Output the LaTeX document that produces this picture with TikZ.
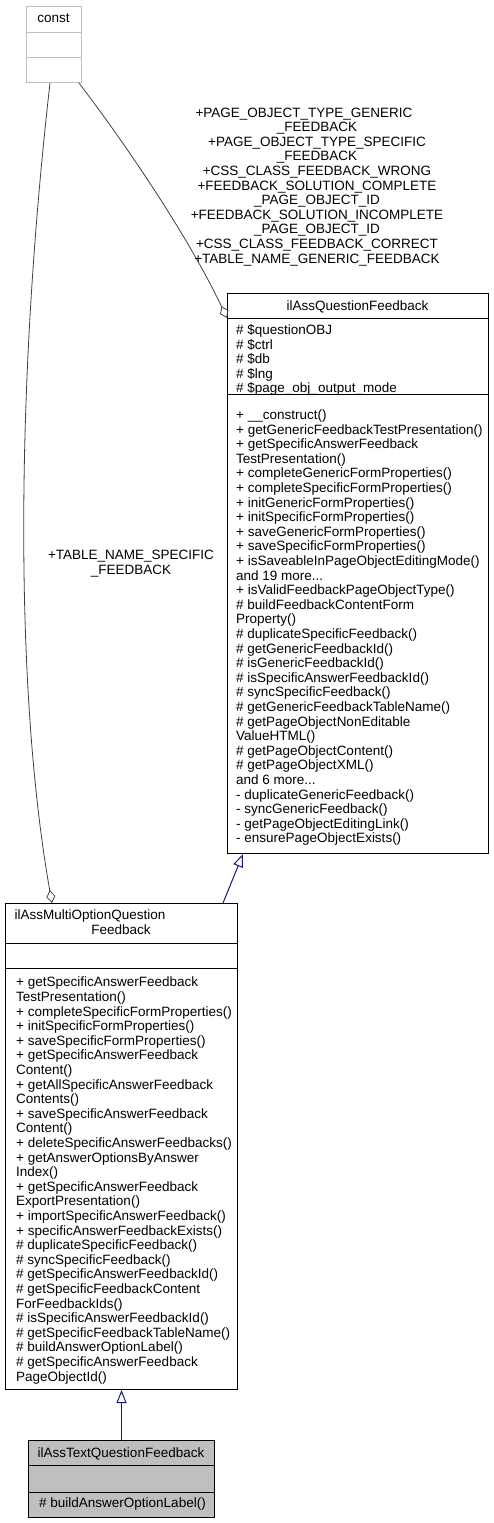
\documentclass[tikz,border=0pt]{standalone}
\usepackage{fontspec}
\setmainfont{Liberation Sans}
\usetikzlibrary{arrows.meta, calc}
\definecolor{navy}{HTML}{191970}
\tikzset{
    classbox/.style={draw, line width=1pt, anchor=north west, inner sep=0pt},
    ghostbox/.style={classbox, draw=gray!50},
    hitbox/.style={classbox, fill=gray!50},
    classtitle/.style={anchor=base, align=center, inner sep=0pt},
    members/.style={anchor=base west, align=left, inner sep=0pt},
    edgelabel/.style={anchor=base, align=center, inner sep=0pt},
    usage/.style={-{Diamond[open, length=13pt, width=9pt]}, draw=darkgray, line width=0.8pt},
    inherit/.style={-{Triangle[open, length=13pt, width=10pt]}, draw=navy, line width=1pt}
}

\begin{document}
\begin{tikzpicture}[x=1pt, y=-1pt, font=\fontsize{13.5}{14.6}\selectfont]
    \useasboundingbox (0,0) rectangle (493,1523);
    % multi-line nodes sit on the baseline of their last line

    % const
    \node[ghostbox, minimum width=55pt, minimum height=76pt] (const) at (26,6) {};
    \draw[gray!50, line width=1pt] (26,32) -- (81,32) (26,57) -- (81,57);
    \node[classtitle] (constname) at (53.5,23) {const};

    % ilAssQuestionFeedback
    \node[classbox, minimum width=261pt, minimum height=560pt] (qfb) at (227,293) {};
    \draw[line width=1pt] (227,318) -- (488,318) (227,394) -- (488,394);
    \node[classtitle] (qfbname) at (357.5,310) {ilAssQuestionFeedback};
    \node[members] (qfbattr) at (236,392.9) {\# \$questionOBJ\\\# \$ctrl\\\# \$db\\\# \$lng\\\# \$page\_obj\_output\_mode};
    \node[members] (qfbops) at (236,842.9) {+ \_\_construct()\\
        + getGenericFeedbackTestPresentation()\\
        + getSpecificAnswerFeedback\\
        TestPresentation()\\
        + completeGenericFormProperties()\\
        + completeSpecificFormProperties()\\
        + initGenericFormProperties()\\
        + initSpecificFormProperties()\\
        + saveGenericFormProperties()\\
        + saveSpecificFormProperties()\\
        + isSaveableInPageObjectEditingMode()\\
        and 19 more...\\
        + isValidFeedbackPageObjectType()\\
        \# buildFeedbackContentForm\\
        Property()\\
        \# duplicateSpecificFeedback()\\
        \# getGenericFeedbackId()\\
        \# isGenericFeedbackId()\\
        \# isSpecificAnswerFeedbackId()\\
        \# syncSpecificFeedback()\\
        \# getGenericFeedbackTableName()\\
        \# getPageObjectNonEditable\\
        ValueHTML()\\
        \# getPageObjectContent()\\
        \# getPageObjectXML()\\
        and 6 more...\\
        - duplicateGenericFeedback()\\
        - syncGenericFeedback()\\
        - getPageObjectEditingLink()\\
        - ensurePageObjectExists()};

    % ilAssMultiOptionQuestionFeedback
    \node[classbox, minimum width=232pt, minimum height=486pt] (mofb) at (5,903) {};
    \draw[line width=1pt] (5,943) -- (237,943) (5,968) -- (237,968);
    \node[classtitle] (mofbname) at (121,934) {ilAssMultiOptionQuestion\hspace*{62pt}\\Feedback};
    \node[members] (mofbops) at (16,1381) {+ getSpecificAnswerFeedback\\
        TestPresentation()\\
        + completeSpecificFormProperties()\\
        + initSpecificFormProperties()\\
        + saveSpecificFormProperties()\\
        + getSpecificAnswerFeedback\\
        Content()\\
        + getAllSpecificAnswerFeedback\\
        Contents()\\
        + saveSpecificAnswerFeedback\\
        Content()\\
        + deleteSpecificAnswerFeedbacks()\\
        + getAnswerOptionsByAnswer\\
        Index()\\
        + getSpecificAnswerFeedback\\
        ExportPresentation()\\
        + importSpecificAnswerFeedback()\\
        + specificAnswerFeedbackExists()\\
        \# duplicateSpecificFeedback()\\
        \# syncSpecificFeedback()\\
        \# getSpecificAnswerFeedbackId()\\
        \# getSpecificFeedbackContent\\
        ForFeedbackIds()\\
        \# isSpecificAnswerFeedbackId()\\
        \# getSpecificFeedbackTableName()\\
        \# buildAnswerOptionLabel()\\
        \# getSpecificAnswerFeedback\\
        PageObjectId()};

    % ilAssTextQuestionFeedback
    \node[hitbox, minimum width=186pt, minimum height=77pt] (tqfb) at (28,1440) {};
    \draw[line width=1pt] (28,1465) -- (214,1465) (28,1492) -- (214,1492);
    \node[classtitle] (tqfbname) at (121,1457.5) {ilAssTextQuestionFeedback};
    \node[members] (tqfbops) at (39,1507.5) {\# buildAnswerOptionLabel()};

    % edges
    \draw[inherit] (tqfb.north) -- (mofb.south);
    \draw[inherit] ($(mofb.north east)+(-15,0)$) -- ($(qfb.south west)+(16,0)$);
    \draw[usage] ($(const.south)+(-4,0)$) .. controls (14,400) and (16,700) .. ($(mofb.north west)+(47,0)$);
    \draw[usage] ($(const.south east)+(-3,0)$) .. controls (130,150) and (190,240) .. ($(qfb.north west)+(0,25)$);

    \node[edgelabel] (specific) at (131,574) {+TABLE\_NAME\_SPECIFIC\\\_FEEDBACK};
    \node[edgelabel] (generic) at (317,263) {+PAGE\_OBJECT\_TYPE\_GENERIC\hspace*{26pt}\\
        \_FEEDBACK\\
        +PAGE\_OBJECT\_TYPE\_SPECIFIC\hspace*{34pt}\\
        \_FEEDBACK\\
        +CSS\_CLASS\_FEEDBACK\_WRONG\\
        +FEEDBACK\_SOLUTION\_COMPLETE\hspace*{14pt}\\
        \_PAGE\_OBJECT\_ID\\
        +FEEDBACK\_SOLUTION\_INCOMPLETE\\
        \_PAGE\_OBJECT\_ID\\
        +CSS\_CLASS\_FEEDBACK\_CORRECT\\
        +TABLE\_NAME\_GENERIC\_FEEDBACK};
\end{tikzpicture}
\end{document}
